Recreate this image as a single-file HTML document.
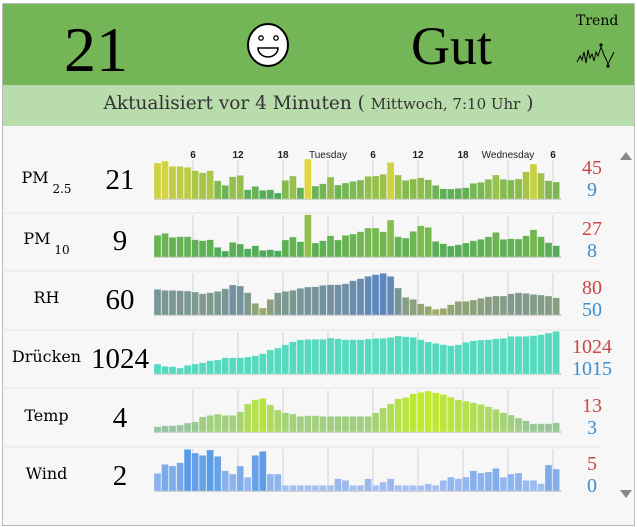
<!DOCTYPE html>
<html><head><meta charset="utf-8"><style>
body{margin:0;width:637px;height:527px;background:#fff;overflow:hidden;font-family:"Liberation Serif",serif}
#frame{position:absolute;left:2px;top:3px;width:631px;height:521px;border:1px solid #bbb;background:#f7f7f7;overflow:hidden}
.t{position:absolute;white-space:nowrap}
.d{font-family:"DejaVu Serif",serif}
</style></head><body>
<div id="frame">
<div style="position:absolute;left:0;top:0;width:631px;height:81px;background:#74b558"></div>
<div style="position:absolute;left:0;top:81px;width:631px;height:41px;background:#b8dcab"></div>
</div>
<div class="t" style="left:64px;top:15px;font-size:64px;line-height:70px">21</div>
<svg style="position:absolute;left:0;top:0" width="637" height="527">
<ellipse cx="268" cy="45" rx="20" ry="21" fill="#fff" stroke="#000" stroke-width="2"/>
<circle cx="261" cy="38" r="2.2" fill="none" stroke="#000" stroke-width="1.3"/>
<circle cx="276" cy="38" r="2.2" fill="none" stroke="#000" stroke-width="1.3"/>
<path d="M258 48 H278 A10 9 0 0 1 258 48 Z" fill="none" stroke="#000" stroke-width="1.5"/>
<polyline points="577,62 580,56 582,60 584,52 586,63 588,50 590,58 592,54 594,61 596,52 598,56 601,47 604,55 606,59 608,64 611,58 614,52" fill="none" stroke="#000" stroke-width="1"/>
<circle cx="601" cy="45" r="1.6"/><circle cx="608" cy="66" r="1.6"/>
<polygon points="620,160 632,160 626,152" fill="#888"/>
<polygon points="620,490 632,490 626,498" fill="#888"/>
<g id="g"></g>
</svg>
<div class="t" style="left:411px;top:16px;font-size:54px;line-height:60px">Gut</div>
<div class="t d" style="left:576px;top:13px;font-size:14px">Trend</div>
<div class="t d" style="left:0;width:637px;text-align:center;top:93px;font-size:18.5px;color:#333">Aktualisiert vor 4 Minuten ( <span style="font-size:15px">Mittwoch, 7:10 Uhr</span> )</div>
<div id="lab"></div>
<script>
var rows=[
{n:'PM<sub style="font-size:12px;vertical-align:-10px"> 2.5</sub>',v:'21',mx:'45',mn:'9',b:199,base:178,sc:3,c:[[74,169,90],[224,214,64]],
t:[70,64,80,80,83,93,99,93,123,137,111,107,150,140,152,150,160,122,109,144,58,139,132,112,136,130,125,121,110,109,104,68,106,122,118,114,120,137,147,148,146,144,131,128,119,106,119,121,118,96,73,100,123,127]},
{n:'PM<sub style="font-size:12px;vertical-align:-10px"> 10</sub>',v:'9',mx:'27',mn:'8',b:257,base:352,sc:3,c:[[74,169,90],[145,192,74]],
t:[287,281,293,291,291,300,303,300,323,334,308,313,327,318,332,330,333,301,292,306,225,310,303,288,301,287,283,276,265,265,276,241,291,295,275,258,263,305,312,319,315,310,303,299,291,278,299,297,298,288,270,291,309,318]},
{n:'RH',v:'60',mx:'80',mn:'50',b:315,base:527,sc:3,c:[[156,170,100],[94,134,190]],
t:[450,453,453,454,455,458,463,460,456,448,437,440,460,492,506,480,460,456,453,447,443,442,438,436,436,433,424,418,411,406,402,411,446,474,480,493,501,510,507,496,486,486,482,477,472,470,470,463,460,462,465,467,470,475]},
{n:'Drücken',v:'1024',mx:'1024',mn:'1015',b:374,base:148,sc:3,c:[[85,217,191],[85,217,191]],
t:[118,125,126,130,122,118,114,108,106,99,99,99,97,93,87,76,70,60,51,45,44,44,44,40,42,45,45,45,43,41,41,38,34,36,38,45,52,56,60,63,60,53,48,46,45,42,41,35,35,35,33,30,25,20]},
{n:'Temp',v:'4',mx:'13',mn:'3',b:432,base:322,sc:3,c:[[148,196,164],[192,234,46]],
t:[306,303,303,301,295,291,276,272,268,272,272,261,238,225,221,240,256,264,268,275,273,273,275,275,275,275,275,275,275,264,250,237,222,218,207,203,199,204,209,217,225,229,234,239,246,254,264,271,280,288,297,297,297,294]},
{n:'Wind',v:'2',mx:'5',mn:'0',b:491,base:498,sc:3,c:[[166,191,240],[90,155,230]],
t:[445,418,423,413,373,384,391,375,394,437,447,423,457,391,379,447,447,481,481,481,481,481,481,481,461,466,481,481,461,481,471,461,481,481,481,481,476,481,466,456,461,456,437,444,441,430,457,447,444,466,466,476,420,432]}
];
var g='',lab='',seps=[213,271,330,388,447];
seps.forEach(function(y){g+='<line x1="4" x2="600" y1="'+y+'" y2="'+y+'" stroke="#e4e4e4"/>';});
var gx=[193,238,283,328,373,418,463,508,553];
rows.forEach(function(r,ri){
 var top=ri==0?160:r.b-42;
 gx.forEach(function(x){g+='<line x1="'+x+'" x2="'+x+'" y1="'+top+'" y2="'+r.b+'" stroke="#ddd" stroke-width="1.5"/>';});
 g+='<rect x="154" y="'+(r.b-1)+'" width="407" height="2" fill="#ccc"/>';
 var hs=r.t.map(function(t){return (r.base-t)/r.sc;});
 var mx=Math.max.apply(0,hs),mn=Math.min.apply(0,hs);
 hs.forEach(function(h,i){
  var f=mx>mn?(h-mn)/(mx-mn):0,c=r.c;
  var col='rgb('+[0,1,2].map(function(k){return Math.round(c[0][k]+(c[1][k]-c[0][k])*f)}).join(',')+')';
  var x=154+i*7.52;
  g+='<rect x="'+x.toFixed(1)+'" y="'+(r.b-h).toFixed(1)+'" width="7" height="'+h.toFixed(1)+'" fill="'+col+'" stroke="rgba(255,255,255,0.45)" stroke-width="0.6"/>';
 });
 var cy=[181,242,301,360,419,477][ri];
 lab+='<div class="t d" style="left:0;width:93px;text-align:center;top:'+(cy-13)+'px;font-size:16px">'+r.n+'</div>';
 lab+='<div class="t" style="left:85px;width:70px;text-align:center;top:'+(cy-17)+'px;font-size:29px">'+r.v+'</div>';
 lab+='<div class="t" style="left:560px;width:64px;text-align:center;top:'+(cy-24)+'px;font-size:20px;line-height:22px;color:#cc4646">'+r.mx+'<br><span style="color:#3a8fd0">'+r.mn+'</span></div>';
});
var tl=['6','12','18','Tuesday','6','12','18','Wednesday','6'];
tl.forEach(function(s,i){g+='<text x="'+gx[i]+'" y="158" text-anchor="middle" font-family="Liberation Sans,sans-serif" font-size="10" '+(s.length>2?'':'font-weight="bold"')+' fill="#222">'+s+'</text>';});
document.getElementById('g').innerHTML=g;
document.getElementById('lab').innerHTML=lab;
</script>
</body></html>
